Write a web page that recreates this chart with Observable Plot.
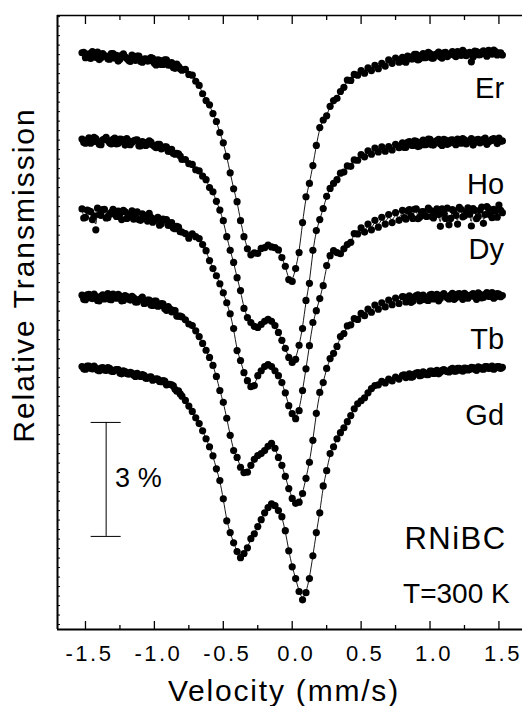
<!DOCTYPE html>
<html><head><meta charset="utf-8">
<script src="https://cdn.jsdelivr.net/npm/d3@7"></script>
<script src="https://cdn.jsdelivr.net/npm/@observablehq/plot@0.6"></script>
<style>html,body{margin:0;padding:0;background:#fff;} svg{display:block}</style>
</head><body><div id="chart"></div>
<script>
// Channel velocities (mm/s), full scan
const velocity = [-1.525,-1.5,-1.475,-1.45,-1.425,-1.4,-1.375,-1.35,-1.325,-1.3,-1.275,-1.25,-1.225,-1.2,-1.175,-1.15,-1.125,-1.1,-1.075,-1.05,-1.025,-1.0,
-0.975,-0.95,-0.925,-0.9,-0.875,-0.85,-0.825,-0.8,-0.775,-0.75,-0.725,-0.7,-0.675,-0.65,-0.625,-0.6,-0.575,-0.55,-0.525,-0.5,-0.475,-0.45,-0.425,-0.4,-0.375,-0.35,-0.325,-0.3,-0.275,-0.25,-0.225,-0.2,-0.175,-0.15,-0.125,-0.1,-0.075,-0.05,-0.025,0,
0.025,0.05,0.075,0.1,0.125,0.15,0.175,0.2,0.225,0.25,0.275,0.3,0.325,0.35,0.375,0.4,0.425,0.45,0.475,0.5,0.525,0.55,0.575,0.6,0.625,0.65,0.675,0.7,0.725,0.75,0.775,0.8,0.825,0.85,0.875,0.9,0.925,0.95,0.975,1.0,
1.025,1.05,1.075,1.1,1.125,1.15,1.175,1.2,1.225,1.25,1.275,1.3,1.325,1.35,1.375,1.4,1.425,1.45,1.475,1.5,1.525];
// Extra channels in the wings (mm/s)
const velocityB = [-1.5125,-1.4875,-1.4625,-1.4375,-1.4125,-1.3875,-1.3625,-1.3375,-1.3125,-1.2875,-1.2625,-1.2375,-1.2125,-1.1875,-1.1625,-1.1375,-1.1125,-1.0875,-1.0625,-1.0375,-1.0125,-0.9875,-0.9625,-0.9375,-0.9125,-0.8875,-0.8625,-0.8375,-0.8125,
0.8125,0.8375,0.8625,0.8875,0.9125,0.9375,0.9625,0.9875,1.0125,1.0375,1.0625,1.0875,1.1125,1.1375,1.1625,1.1875,1.2125,1.2375,1.2625,1.2875,1.3125,1.3375,1.3625,1.3875,1.4125,1.4375,1.4625,1.4875,1.5125];

// Relative transmission (%) of each compound, 100 = baseline
const er = [100.05,99.92,100.02,100.08,99.93,99.87,100.03,99.96,99.88,100.03,99.98,99.88,100.02,99.90,99.82,99.93,99.96,99.82,99.88,99.83,99.92,99.77,
99.86,99.74,99.86,99.73,99.79,99.64,99.69,99.59,
99.61,99.48,99.46,99.30,99.19,98.97,98.79,98.68,98.45,98.24,97.95,97.68,97.32,96.89,96.47,96.13,95.63,95.21,94.89,94.73,94.78,94.77,94.90,94.92,94.99,94.94,94.92,94.86,94.66,94.43,94.08,94.03,
94.37,94.79,95.58,96.26,96.61,97.08,97.61,98.08,98.28,98.39,98.64,98.79,98.85,99.03,99.14,99.33,99.32,99.48,99.46,99.58,99.51,99.65,99.58,99.72,99.63,99.77,99.70,99.86,99.77,99.91,99.80,99.93,99.80,99.94,99.89,100.01,99.89,100.03,99.93,100.03,
99.91,100.02,99.94,100.05,99.95,100.03,99.99,100.08,99.98,100.06,100.01,99.81,100.09,100.00,100.07,100.02,100.11,100.01,100.08,100.04,99.99];
const erB = [100.06,99.98,99.90,100.02,100.07,99.92,99.97,99.89,100.03,99.91,99.83,99.98,99.94,99.85,99.99,99.85,99.96,99.80,99.89,99.84,99.90,99.73,99.85,99.74,99.86,99.73,99.66,99.75,99.63,
99.82,99.96,99.89,100.01,99.86,99.98,99.92,100.06,99.91,100.00,100.07,99.91,100.06,99.99,100.08,99.95,100.03,100.11,99.97,100.06,99.94,100.08,100.00,100.10,99.96,100.06,100.12,99.99,100.05];

const ho = [100.04,99.93,100.07,99.96,100.05,99.90,100.02,100.08,99.94,100.03,99.91,100.04,99.97,100.05,99.89,99.99,100.02,99.86,99.95,99.90,99.96,99.85,
99.90,99.78,99.83,99.72,99.77,99.64,99.65,99.50,
99.50,99.39,99.37,99.23,99.20,99.06,98.97,98.76,98.65,98.40,98.17,97.89,97.47,97.11,96.79,96.39,96.05,95.58,95.34,95.21,95.11,95.08,95.16,95.24,95.29,95.24,95.13,94.95,94.74,94.53,94.29,94.16,
94.24,94.61,95.05,95.79,96.24,97.11,97.63,97.92,98.21,98.53,98.74,98.87,98.97,99.14,99.17,99.33,99.32,99.49,99.48,99.63,99.57,99.73,99.64,99.80,99.70,99.83,99.72,99.84,99.75,99.90,99.81,99.94,99.82,99.97,99.87,99.98,99.86,100.01,99.90,100.03,
99.88,100.00,99.91,100.03,99.90,100.01,99.94,100.04,99.93,100.02,99.96,100.05,99.95,100.03,99.97,100.06,99.97,100.03,100.00,100.06,99.99];
const hoB = [99.95,100.01,99.93,100.08,99.97,99.89,100.04,100.00,99.91,100.06,99.93,100.03,99.88,99.99,99.95,100.01,99.86,99.97,99.87,99.99,99.88,99.81,99.90,99.80,99.83,99.72,99.66,99.66,99.59,
99.82,99.95,99.88,99.99,99.84,99.96,99.89,100.04,99.89,99.97,100.03,99.87,100.01,99.93,100.02,99.89,99.97,100.05,99.91,100.00,99.88,100.02,99.94,100.03,99.90,99.99,100.05,99.92,99.98];

const dy = [100.10,99.88,100.05,99.82,99.55,99.95,100.08,99.86,99.96,100.09,99.90,99.98,100.06,99.85,99.97,99.83,100.02,99.80,99.93,99.78,99.88,99.79,
99.88,99.71,99.81,99.67,99.74,99.58,99.62,99.49,
99.45,99.33,99.44,99.37,99.32,99.16,99.00,98.74,98.53,98.34,98.13,97.89,97.63,97.34,96.95,96.37,96.11,95.79,95.58,95.42,95.45,95.71,95.84,95.95,96.00,95.95,95.84,95.71,95.53,95.26,94.92,94.71,
94.58,94.79,95.32,95.89,96.50,97.11,97.42,97.74,98.08,98.61,98.87,99.00,98.95,98.92,99.05,99.16,99.22,99.45,99.44,99.60,99.49,99.70,99.55,99.80,99.62,99.88,99.70,99.95,99.74,100.00,99.80,100.06,99.83,100.08,99.85,100.10,99.88,100.03,99.90,100.07,
99.86,100.10,99.64,99.98,100.12,99.85,100.05,99.70,100.09,99.92,100.13,99.65,100.06,99.90,100.15,99.95,100.11,99.87,100.04,100.20,100.00];
const dyB = [99.86,100.07,100.03,99.92,100.12,99.93,100.09,99.87,100.01,99.96,100.04,99.82,100.02,99.88,100.05,99.91,99.82,99.97,99.84,99.98,99.75,99.84,99.67,99.83,99.82,99.67,99.60,99.64,99.50,
99.87,100.05,99.92,100.09,99.84,100.02,99.93,100.12,99.90,100.04,99.95,100.10,99.85,99.68,100.08,99.93,100.14,99.89,100.03,99.96,100.11,99.84,100.07,99.72,100.16,99.94,100.09,99.88,100.06];

const tb = [100.06,99.94,100.08,99.97,100.03,99.91,100.07,100.01,99.95,100.09,99.98,100.04,99.92,100.02,99.93,99.99,99.88,99.96,99.84,99.93,99.80,99.90,
99.77,99.84,99.70,99.76,99.62,99.65,99.51,99.49,
99.41,99.30,99.26,99.12,98.97,98.79,98.61,98.42,98.21,97.92,97.55,97.24,96.82,96.37,95.97,95.79,95.53,95.39,95.40,95.58,95.74,95.84,95.89,95.97,96.08,96.16,96.03,95.79,95.58,95.29,94.97,94.71,
94.58,94.61,94.84,95.24,95.66,96.24,96.95,97.50,97.76,98.13,98.39,98.53,98.71,98.97,99.05,99.25,99.28,99.44,99.42,99.58,99.52,99.69,99.61,99.80,99.69,99.86,99.75,99.93,99.81,99.98,99.84,100.02,99.88,100.04,99.90,100.05,99.91,100.06,99.93,100.07,
99.96,100.08,99.97,100.10,99.99,100.06,99.95,100.09,100.01,100.11,99.98,100.07,100.02,100.12,99.99,100.08,100.03,100.13,100.02,100.09,100.05];
const tbB = [99.95,100.07,99.99,100.09,99.92,100.03,99.96,100.10,99.94,100.02,100.08,99.91,100.05,99.96,100.03,99.88,99.94,100.01,99.85,99.93,99.79,99.90,99.78,99.83,99.66,99.70,99.66,99.51,99.51,
100.01,99.94,99.87,100.01,100.07,99.93,100.00,99.92,100.08,99.97,99.91,100.06,100.04,99.96,100.11,99.99,100.10,99.95,100.07,100.03,100.10,99.95,100.08,100.00,100.13,100.03,99.98,100.10,100.02];

const gd = [100.03,99.96,100.04,99.97,99.99,99.92,100.00,99.93,99.98,99.90,99.95,99.86,99.92,99.85,99.88,99.80,99.85,99.77,99.80,99.72,99.76,99.69,
99.70,99.63,99.65,99.56,99.55,99.43,99.39,99.25,
99.14,98.99,98.85,98.68,98.53,98.34,98.13,97.92,97.68,97.34,97.03,96.55,95.97,95.66,95.39,95.16,95.00,95.11,95.26,95.50,95.63,95.82,96.00,96.18,96.32,96.42,96.37,96.24,96.08,95.71,95.18,94.76,
94.45,94.11,93.89,94.08,94.45,95.05,95.66,96.18,96.89,97.29,97.74,97.92,98.13,98.29,98.42,98.58,98.74,98.92,99.05,99.13,99.21,99.34,99.45,99.53,99.55,99.64,99.60,99.70,99.65,99.75,99.70,99.80,99.74,99.84,99.76,99.86,99.79,99.89,99.82,99.91,
99.85,99.93,99.88,99.95,99.90,99.96,99.91,99.98,99.93,99.99,99.94,100.01,99.96,100.02,99.97,100.03,99.98,100.04,99.99,100.03,100.01];
const gdB = [99.97,100.04,99.98,100.04,99.94,99.99,99.94,100.00,99.91,99.94,99.95,99.84,99.90,99.83,99.86,99.77,99.80,99.82,99.72,99.75,99.67,99.71,99.64,99.66,99.55,99.56,99.52,99.38,99.31,
99.81,99.78,99.75,99.83,99.87,99.80,99.86,99.82,99.91,99.86,99.84,99.93,99.92,99.89,99.98,99.91,99.98,99.91,99.98,99.95,100.00,99.93,100.00,99.96,100.03,99.99,99.96,100.03,99.98];

const samples = ["Er", "Ho", "Dy", "Tb", "Gd"];
const series = [er, ho, dy, tb, gd];
const seriesB = [erB, hoB, dyB, tbB, gdB];
const offsets = [0, 2.26, 4.16, 6.39, 8.24];       // vertical stacking offsets (%)
const xTicks = [-1.5, -1.0, -0.5, 0.0, 0.5, 1.0, 1.5];
const xTickLabels = ["-1.5", "-1.0", "-0.5", "0.0", "0.5", "1.0", "1.5"];
const xMinorTicks = [-1.25, -0.75, -0.25, 0.25, 0.75, 1.25];
const xTitle = "Velocity (mm/s)";
const yTitle = "Relative Transmission";

// layout helpers (data coordinates)
const xDomain = [-1.703, 1.671];
const yDomain = [84.87, 101.03];
const labelPos = {x: 1.537, y: [98.87, 96.34, 94.63, 92.26, 90.24]};
const scaleBar = {x: -1.35, top: 90.32, size: 3, half: 0.109, label: "3 %", labelX: -1.285, labelY: 88.61};
const notes = [{text: "RNiBC", x: 1.556, y: 87.0, size: 31}, {text: "T=300 K", x: 1.578, y: 85.58, size: 28}];

const rows = [];
samples.forEach((s, i) => {
  series[i].forEach((t, j) => rows.push({sample: s, v: velocity[j], p: t - offsets[i]}));
  seriesB[i].forEach((t, j) => rows.push({sample: s, v: velocityB[j], p: t - offsets[i]}));
});
rows.sort((a, b) => d3.ascending(a.sample, b.sample) || a.v - b.v);
const yMinor = d3.range(85, 101.01, 0.25);

const font = "'Liberation Sans', Arial, Helvetica, sans-serif";
const W = 522, H = 706, mT = 15, mB = 77, mL = 57, mR = 0;
const fh = H - mT - mB, fw = W - mL - mR;

const chart = Plot.plot({
  width: W, height: H, marginTop: mT, marginBottom: mB, marginLeft: mL, marginRight: mR,
  x: {domain: xDomain, axis: null},
  y: {domain: yDomain, axis: null},
  style: {fontFamily: font, background: "#fff", color: "#000"},
  marks: [
    Plot.ruleY([yDomain[1]], {stroke: "#000", strokeWidth: 1.5}),
    Plot.ruleY([yDomain[0]], {stroke: "#000", strokeWidth: 2}),
    Plot.ruleX([xDomain[0]], {stroke: "#000", strokeWidth: 2}),
    Plot.tickX(xTicks, {x: d => d, insetTop: fh - 8, stroke: "#000", strokeWidth: 1.3}),
    Plot.tickX(xMinorTicks, {x: d => d, insetTop: fh - 4, stroke: "#000", strokeWidth: 1.3}),
    Plot.tickX(xTicks, {x: d => d, insetBottom: fh - 9, stroke: "#000", strokeWidth: 1.3}),
    Plot.tickX(xMinorTicks, {x: d => d, insetBottom: fh - 5, stroke: "#000", strokeWidth: 1.3}),
    Plot.tickY(yMinor, {y: d => d, insetRight: fw - 3, stroke: "#000", strokeWidth: 1}),
    Plot.text(xTicks, {x: d => d, text: (d, i) => xTickLabels[i], frameAnchor: "bottom", lineAnchor: "bottom", dy: 31, dx: 4, fontSize: 22, fill: "#000"}),
    Plot.text([xTitle], {x: -0.06, frameAnchor: "bottom", lineAnchor: "bottom", dy: 71, fontSize: 30, fill: "#000", text: d => d}),
    Plot.text([yTitle], {y: 94.2, frameAnchor: "left", textAnchor: "middle", dx: -24, rotate: -90, lineAnchor: "bottom", fontSize: 30, fill: "#000", text: d => d}),
    Plot.line(rows, {x: "v", y: "p", z: "sample", stroke: "#000", strokeWidth: 0.9, curve: "basis"}),
    Plot.dot(rows, {x: "v", y: "p", r: 3.6, fill: "#000", stroke: null}),
    Plot.text(samples, {x: labelPos.x, y: (d, i) => labelPos.y[i], text: d => d, textAnchor: "end", lineAnchor: "bottom", fontSize: 29, fill: "#000"}),
    Plot.ruleX([scaleBar.x], {y1: scaleBar.top, y2: scaleBar.top - scaleBar.size, stroke: "#000", strokeWidth: 1}),
    Plot.ruleY([scaleBar.top, scaleBar.top - scaleBar.size], {x1: scaleBar.x - scaleBar.half, x2: scaleBar.x + scaleBar.half, stroke: "#000", strokeWidth: 1}),
    Plot.text([scaleBar.label], {x: scaleBar.labelX, y: scaleBar.labelY, text: d => d, textAnchor: "start", lineAnchor: "bottom", fontSize: 27, fill: "#000"}),
    Plot.text(notes, {x: "x", y: "y", text: "text", fontSize: d => d.size, textAnchor: "end", lineAnchor: "bottom", fill: "#000"})
  ]
});
// letter spacing of the wide reference lettering
d3.select(chart).selectAll("text").each(function () {
  const t = this.textContent;
  if (t === xTitle) this.style.letterSpacing = "1.8px";
  else if (t === yTitle) this.style.letterSpacing = "2px";
  else if (xTickLabels.includes(t)) this.style.letterSpacing = "2.5px";
  else if (t === "RNiBC") this.style.letterSpacing = "1.5px";
});
document.getElementById("chart").appendChild(chart);
</script>
</body></html>
